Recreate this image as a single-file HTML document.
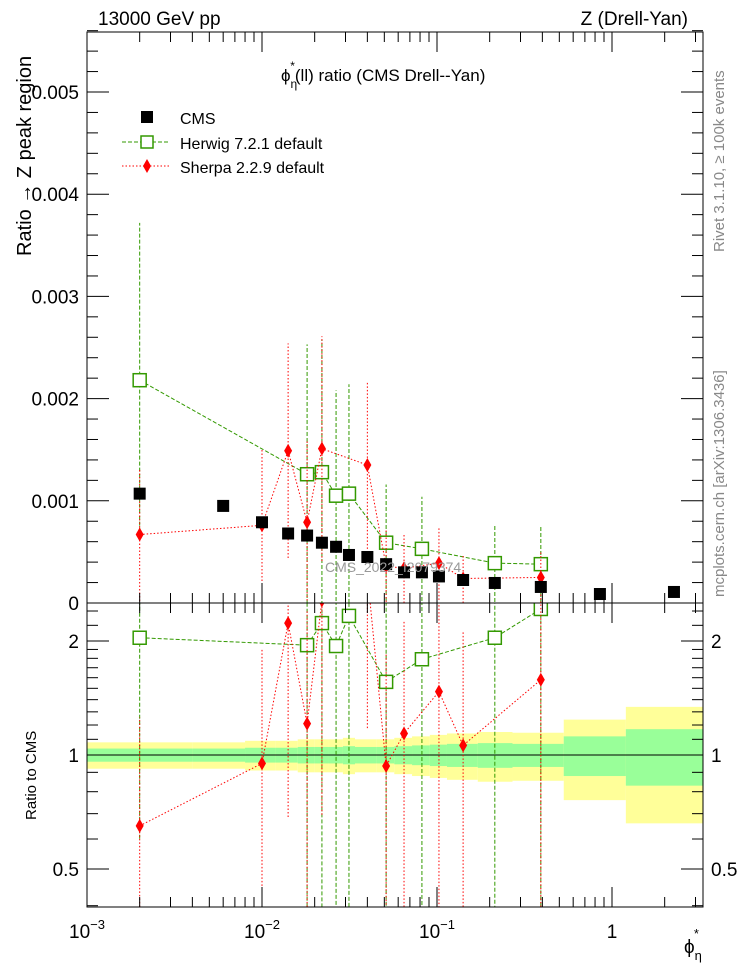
<!DOCTYPE html>
<html><head><meta charset="utf-8"><style>
html,body{margin:0;padding:0;background:#fff;overflow:hidden;}
svg{display:block;font-family:"Liberation Sans",sans-serif;}
</style></head><body>
<svg id="c" width="746" height="972" viewBox="0 0 746 972" xmlns="http://www.w3.org/2000/svg"></svg>
<script>
const xVals=[0.002,0.006,0.01,0.0141,0.0181,0.022,0.0265,0.0314,0.04,0.0512,0.0648,0.082,0.1026,0.141,0.214,0.392,0.853,2.26];
const binEdges=[0.001,0.004,0.008,0.012,0.016,0.02,0.024,0.029,0.034,0.045,0.057,0.072,0.091,0.114,0.171,0.27,0.53,1.2,3.3];
const cmsVals=[0.00107,0.00095,0.00079,0.00068,0.00066,0.00059,0.00055,0.00047,0.00045,0.00038,0.0003,0.0003,0.00026,0.000225,0.000196,0.000157,0.000088,0.000108];
const totRel=[0.08,0.08,0.09,0.09,0.1,0.1,0.1,0.11,0.1,0.1,0.11,0.12,0.13,0.14,0.15,0.145,0.24,0.34];
const statRel=[0.04,0.04,0.045,0.045,0.05,0.05,0.05,0.055,0.05,0.05,0.055,0.06,0.065,0.07,0.075,0.07,0.12,0.17];
const herwigIdx=[0,4,5,6,7,9,11,14,15];
const herwigVals=[0.00218,0.00126,0.00128,0.00105,0.00107,0.00059,0.00053,0.00039,0.00038];
const herwigErr=[0.00154,0.00127,0.0013,0.00103,0.00107,0.00057,0.00051,0.00038,0.00038];
const herwigRatio=[2.04,1.95,2.23,1.94,2.33,1.56,1.79,2.04,2.43];
const sherpaIdx=[0,2,3,4,5,8,9,10,12,13,15];
const sherpaVals=[0.00067,0.00076,0.00149,0.00079,0.00151,0.00135,0.00036,0.00034,0.00039,0.00024,0.00025];
const sherpaErr=[0.00065,0.00075,0.00105,0.0008,0.0011,0.00082,0.00035,0.00034,0.00036,0.00024,0.00025];
const sherpaRatio=[0.65,0.95,2.23,1.21,2.56,3.0,0.935,1.14,1.47,1.06,1.58];
const yTicksTop=[0,0.001,0.002,0.003,0.004,0.005];
const yTickLabelsTop=["0","0.001","0.002","0.003","0.004","0.005"];
const rTicks=[0.5,1,2];
const xTickLabels=["10","10","10","1"];
const xTickExp=["\u22123","\u22122","\u22121",""];

const S=document.getElementById('c');
const NS="http://www.w3.org/2000/svg";
const L=87,R=703,T1=32,B1=603,T2=603,B2=907;
const X=v=>L+175*(Math.log10(v)+3);
const Y1=v=>B1-v*102200;
const Y2=v=>755-114*Math.log2(v);
function mk(t,a,p){const e=document.createElementNS(NS,t);for(const k in a)e.setAttribute(k,a[k]);(p||S).appendChild(e);return e;}
function txt(s,a,p){const e=mk('text',a,p);e.textContent=s;return e;}

const defs=mk('defs',{});
const c1=mk('clipPath',{id:'cp1'},defs);mk('rect',{x:L,y:T1,width:R-L,height:B1-T1},c1);
const c2=mk('clipPath',{id:'cp2'},defs);mk('rect',{x:L,y:T2,width:R-L,height:B2-T2},c2);
const g1=mk('g',{'clip-path':'url(#cp1)'});


const g2=mk('g',{'clip-path':'url(#cp2)'});



for(let i=0;i<xVals.length;i++){
  const x0=X(binEdges[i]),x1=X(binEdges[i+1]);
  const yb=mk('rect',{x:x0,y:Y2(1+totRel[i]),width:x1-x0,height:Y2(1-totRel[i])-Y2(1+totRel[i]),fill:'#ffff99'},g2);
  
  
}
for(let i=0;i<xVals.length;i++){
  const x0=X(binEdges[i]),x1=X(binEdges[i+1]);
  const gb=mk('rect',{x:x0,y:Y2(1+statRel[i]),width:x1-x0,height:Y2(1-statRel[i])-Y2(1+statRel[i]),fill:'#99ff99'},g2);
  
  
}
mk('line',{x1:L,x2:R,y1:Y2(1),y2:Y2(1),stroke:'#000','stroke-width':1},g2);

const wm=txt('CMS_2022_I2079374',{x:325,y:572,'font-size':14,fill:'#999'});



function series(idx,vals,err,ratio,color,dash,marker,name){
  const pts=[],rpts=[];
  idx.forEach((k,j)=>{
    const x=X(xVals[k]);
    const eb=mk('line',{x1:x,x2:x,y1:Y1(vals[j]-err[j]),y2:Y1(vals[j]+err[j]),stroke:color,'stroke-dasharray':dash},g1);
    
    
    const re=err[j]/cmsVals[k];
    const lo=Math.max(ratio[j]-re,0.01);
    const rb=mk('line',{x1:x,x2:x,y1:Y2(lo),y2:Y2(ratio[j]+re),stroke:color,'stroke-dasharray':dash},g2);
    
    
    pts.push(x+','+Y1(vals[j]));rpts.push(x+','+Y2(ratio[j]));
  });
  const p1=mk('polyline',{points:pts.join(' '),fill:'none',stroke:color,'stroke-dasharray':dash},g1);
  
  
  const p2=mk('polyline',{points:rpts.join(' '),fill:'none',stroke:color,'stroke-dasharray':dash},g2);
  
  
  idx.forEach((k,j)=>{
    [[g1,Y1(vals[j])],[g2,Y2(ratio[j])]].forEach(([g,y])=>{
      const x=X(xVals[k]);let m;
      if(marker==='sq') m=mk('rect',{x:x-6.5,y:y-6.5,width:13,height:13,fill:'#fff',stroke:color,'stroke-width':1.5},g);
      else m=mk('polygon',{points:`${x},${y-7} ${x+4},${y} ${x},${y+7} ${x-4},${y}`,fill:color},g);
      
      
    });
  });
}
series(herwigIdx,herwigVals,herwigErr,herwigRatio,'#339900','4,2','sq','herwig');
series(sherpaIdx,sherpaVals,sherpaErr,sherpaRatio,'#ff0000','1.5,2','dia','sherpa');

xVals.forEach((v,i)=>{
  const m=mk('rect',{x:X(v)-6,y:Y1(cmsVals[i])-6,width:12,height:12,fill:'#000'},g1);
  
  
});

[[T1,B1],[T2,B2]].forEach(([t,b])=>mk('rect',{x:L,y:t,width:R-L,height:b-t,fill:'none',stroke:'#000','stroke-width':1}));

for(let d=-3;d<=0;d++){for(let m=1;m<10;m++){const v=m*Math.pow(10,d);const x=X(v);if(x>R)break;
  const len=m===1?20:10;
  [[T1,1],[B1,-1],[T2,1],[B2,-1]].forEach(([y,s])=>mk('line',{x1:x,x2:x,y1:y,y2:y+s*len,stroke:'#000'}));
}}
xTickLabels.forEach((s,i)=>{
  const x=X(Math.pow(10,i-3));
  const t=txt('',{x:x,y:938,'font-size':19,'text-anchor':'middle'});
  
  
  const a=mk('tspan',{},t);a.textContent=s;
  if(xTickExp[i]){const b=mk('tspan',{'font-size':13,dy:-9},t);b.textContent=xTickExp[i];}
});
for(let v=0;v<=0.0056;v+=0.0002){const y=Y1(v);const big=Math.abs(v/0.001-Math.round(v/0.001))<1e-6;const l=big?22:11;
  mk('line',{x1:L,x2:L+l,y1:y,y2:y,stroke:'#000'});mk('line',{x1:R,x2:R-l,y1:y,y2:y,stroke:'#000'});}
yTicksTop.forEach((v,i)=>{const t=txt(yTickLabelsTop[i],{x:79,y:Y1(v)+7,'font-size':19,'text-anchor':'end'});
  
  });
[0.4,0.5,0.6,0.7,0.8,0.9,1,1.1,1.2,1.3,1.4,1.5,1.6,1.7,1.8,1.9,2,2.2,2.4].forEach(v=>{const y=Y2(v);if(y<T2||y>B2)return;
  const big=rTicks.includes(v);const l=big?22:11;
  mk('line',{x1:L,x2:L+l,y1:y,y2:y,stroke:'#000'});mk('line',{x1:R,x2:R-l,y1:y,y2:y,stroke:'#000'});});
rTicks.forEach(v=>{
  const a=txt(String(v),{x:79,y:Y2(v)+7,'font-size':19,'text-anchor':'end'});
  
  
  const b=txt(String(v),{x:711,y:Y2(v)+7,'font-size':19});
  
  
});
</script>
<script>
(function(){
const S=document.getElementById('c');
function add(html){S.insertAdjacentHTML('beforeend',html);}
add('<text x="98" y="25" font-size="19">13000 GeV pp</text>');
add('<text x="688" y="25" font-size="19" text-anchor="end">Z (Drell-Yan)</text>');
add('<text x="281" y="81" font-size="17">\u03d5<tspan font-size="12" dy="7">\u03b7</tspan><tspan font-size="12" dx="-7" dy="-18">*</tspan><tspan dy="11">(ll) ratio (CMS Drell--Yan)</tspan></text>');
add('<text transform="translate(31,256) rotate(-90)" font-size="20">Ratio \u2192 Z peak region</text>');
add('<text transform="translate(36,820) rotate(-90)" font-size="15">Ratio to CMS</text>');
add('<text transform="translate(724,252) rotate(-90)" font-size="15" fill="#888">Rivet 3.1.10, \u2265 100k events</text>');
add('<text transform="translate(724,597) rotate(-90)" font-size="15" fill="#888">mcplots.cern.ch [arXiv:1306.3436]</text>');
add('<text x="684" y="953" font-size="19">\u03d5<tspan font-size="13" dy="7">\u03b7</tspan><tspan font-size="13" dx="-8" dy="-22">*</tspan></text>');
add('<g>'+
'<rect x="141" y="111" width="12" height="12" fill="#000"/>'+
'<text x="180" y="124" font-size="16">CMS</text>'+
'<line x1="122" x2="170" y1="142" y2="142" stroke="#339900" stroke-dasharray="4,2"/>'+
'<rect x="141" y="136" width="12" height="12" fill="#fff" stroke="#339900" stroke-width="1.5"/>'+
'<text x="180" y="149" font-size="16">Herwig 7.2.1 default</text>'+
'<line x1="122" x2="170" y1="166" y2="166" stroke="#f00" stroke-dasharray="1.5,2"/>'+
'<polygon points="147,159 151,166 147,173 143,166" fill="#f00"/>'+
'<text x="180" y="173" font-size="16">Sherpa 2.2.9 default</text></g>');
})();
</script>
</body></html>
